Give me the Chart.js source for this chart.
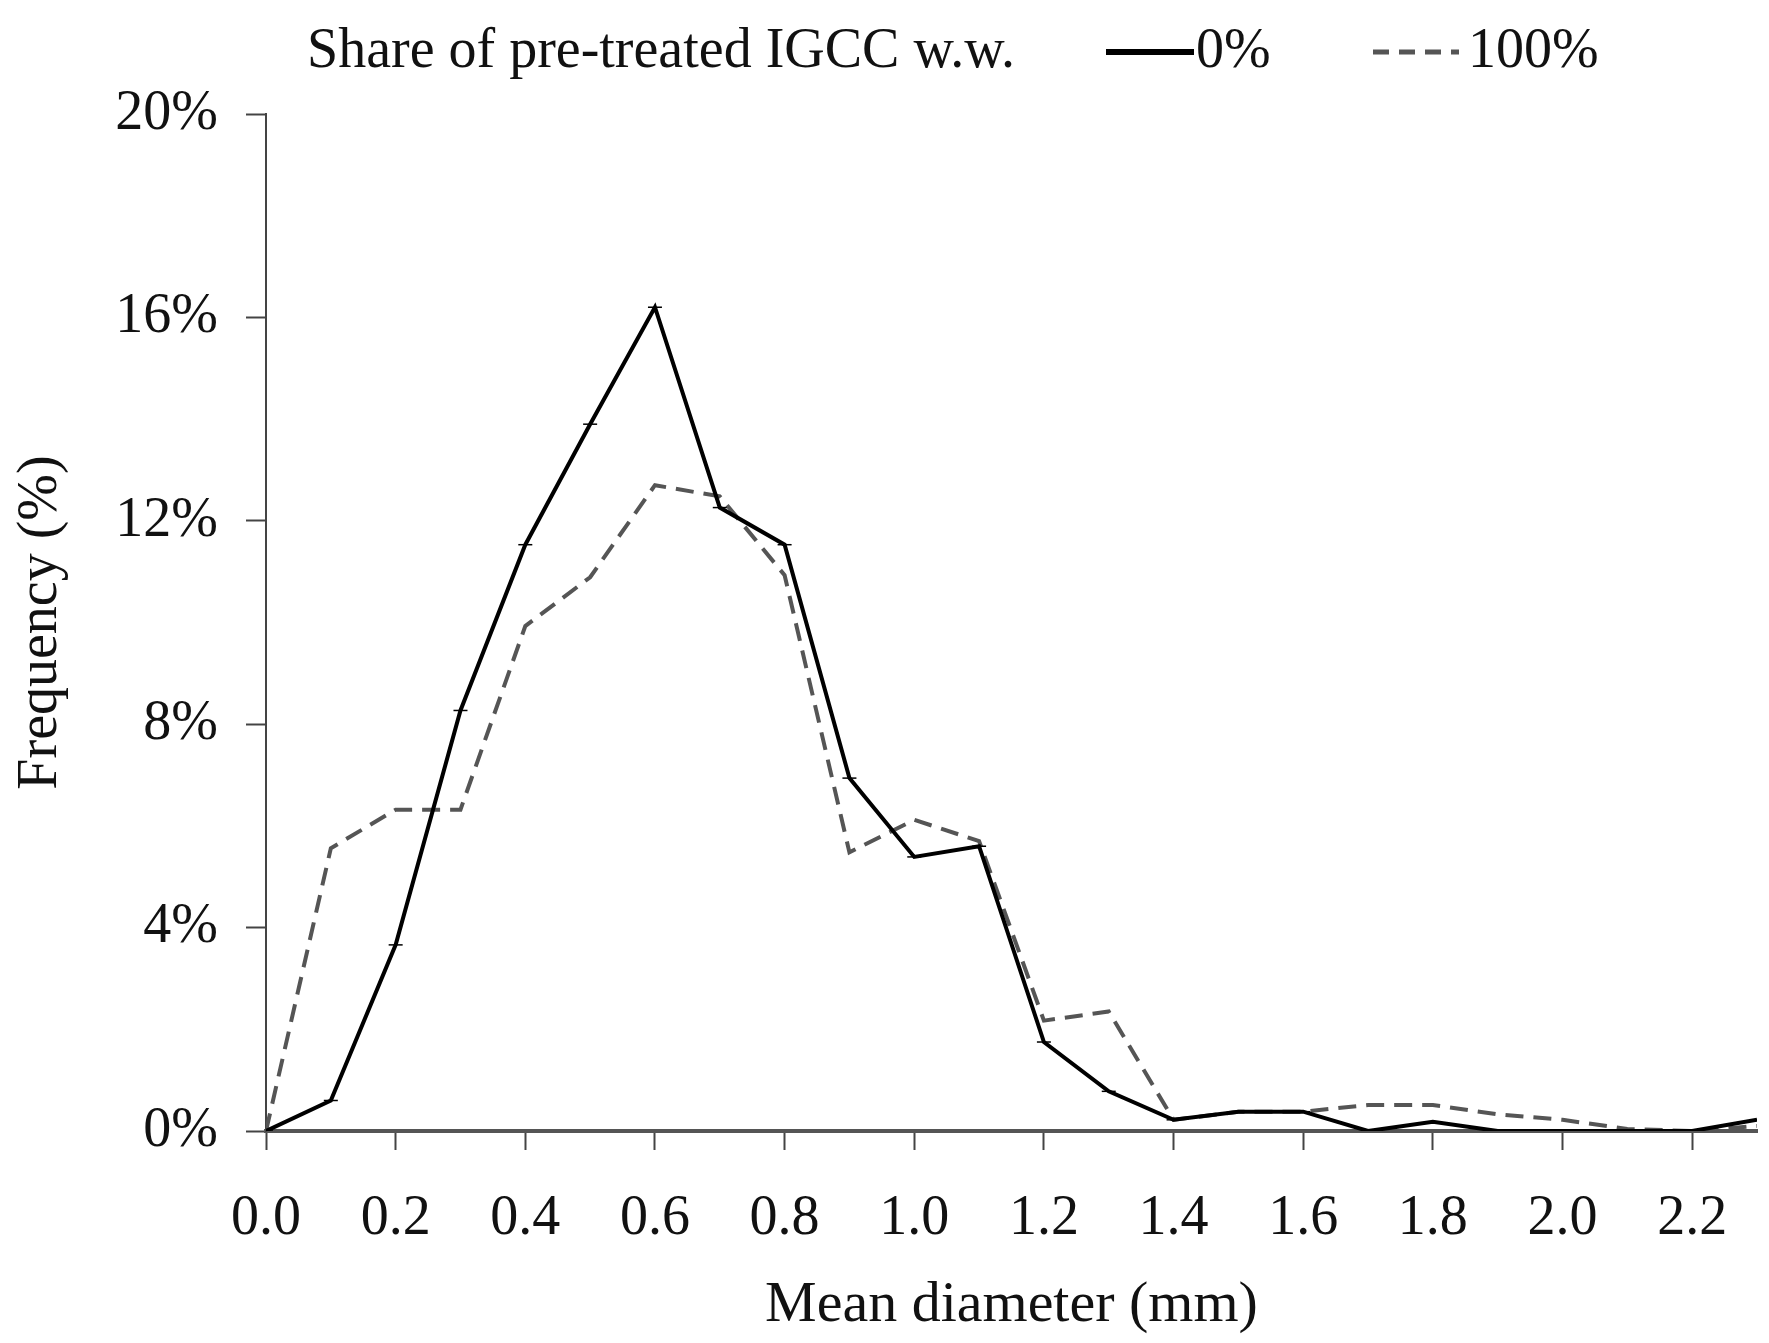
<!DOCTYPE html>
<html>
<head>
<meta charset="utf-8">
<script src="https://cdn.jsdelivr.net/npm/chart.js@4"></script>
<style>
  html, body { margin: 0; padding: 0; background: #fff; }
  #wrap { width: 1769px; height: 1343px; position: relative; }
</style>
</head>
<body>
<div id="wrap"><canvas id="grafico"></canvas></div>
<script>
// diametros medios (mm)
const diametros = [0.0, 0.1, 0.2, 0.3, 0.4, 0.5, 0.6, 0.7, 0.8, 0.9, 1.0, 1.1,
                   1.2, 1.3, 1.4, 1.5, 1.6, 1.7, 1.8, 1.9, 2.0, 2.1, 2.2, 2.3];
// frequencia (%) com 0% de IGCC pre-tratado
const freq0 = [0, 0.6, 3.66, 8.27, 11.53, 13.9, 16.2, 12.26, 11.53, 6.94, 5.39, 5.6,
               1.75, 0.78, 0.22, 0.38, 0.38, 0, 0.18, 0, 0, 0, 0, 0.22];
// frequencia (%) com 100% de IGCC pre-tratado
const freq100 = [0, 5.56, 6.32, 6.32, 9.93, 10.89, 12.7, 12.48, 10.93, 5.48, 6.12, 5.7,
                 2.17, 2.35, 0.22, 0.38, 0.38, 0.51, 0.51, 0.33, 0.22, 0.04, 0, 0.1];
const ticksX = [0.0, 0.2, 0.4, 0.6, 0.8, 1.0, 1.2, 1.4, 1.6, 1.8, 2.0, 2.2];
const ticksY = [0, 4, 8, 12, 16, 20];

const fonte = 'Liberation Serif';
const tamanho = 56;
const corTracejado = '#555555';
const tracejado = [18, 10];

function pontos(valores) {
    return diametros.map((d, i) => ({ x: d, y: valores[i] }));
}

// legenda desenhada no topo
const legendaTopo = {
    id: 'legendaTopo',
    afterDraw(chart) {
        const ctx = chart.ctx;
        ctx.save();
        ctx.font = `${tamanho}px "${fonte}"`;
        ctx.fillStyle = '#111';
        ctx.textBaseline = 'middle';
        const y = 52;
        ctx.fillText('Share of pre-treated IGCC w.w.', 307, y);

        ctx.lineWidth = 6;
        ctx.strokeStyle = '#000';
        ctx.setLineDash([]);
        ctx.beginPath(); ctx.moveTo(1106, y); ctx.lineTo(1194, y); ctx.stroke();
        ctx.fillText('0%', 1196, y);

        ctx.lineWidth = 5;
        ctx.strokeStyle = corTracejado;
        ctx.setLineDash([16, 10]);
        ctx.beginPath(); ctx.moveTo(1373, y); ctx.lineTo(1459, y); ctx.stroke();
        ctx.setLineDash([]);
        ctx.fillText('100%', 1468, y);
        ctx.restore();
    }
};

new Chart(document.getElementById('grafico'), {
    type: 'line',
    data: {
        datasets: [
            {
                label: '0%',
                data: pontos(freq0),
                borderColor: '#000',
                borderWidth: 4,
                pointStyle: 'line',
                pointRadius: 7,
                pointBorderWidth: 1.5,
                pointBorderColor: '#000',
                tension: 0
            },
            {
                label: '100%',
                data: pontos(freq100),
                borderColor: corTracejado,
                borderWidth: 4,
                borderDash: tracejado,
                pointRadius: 0,
                tension: 0
            }
        ]
    },
    options: {
        responsive: true,
        maintainAspectRatio: false,
        animation: false,
        layout: { padding: { top: 114, right: 12, left: 0, bottom: 0 } },
        plugins: {
            legend: { display: false },
            tooltip: { enabled: false }
        },
        scales: {
            x: {
                type: 'linear',
                min: 0,
                max: 2.3,
                afterBuildTicks: scale => { scale.ticks = ticksX.map(v => ({ value: v })); },
                afterFit: scale => { scale.height = 212; },
                grid: { display: true, drawOnChartArea: false, drawTicks: true, tickLength: 19, tickColor: '#444', tickWidth: 2 },
                border: { color: '#555', width: 4 },
                ticks: {
                    padding: 36,
                    color: '#111',
                    font: { family: fonte, size: tamanho },
                    maxRotation: 0,
                    autoSkip: false,
                    callback: v => Number(v).toFixed(1)
                },
                title: {
                    display: true,
                    text: 'Mean diameter (mm)',
                    color: '#111',
                    font: { family: fonte, size: tamanho + 2 },
                    padding: { top: 0, bottom: 2 }
                }
            },
            y: {
                min: 0,
                max: 20,
                afterBuildTicks: scale => { scale.ticks = ticksY.map(v => ({ value: v })); },
                afterFit: scale => { scale.width = 266; },
                grid: { display: true, drawOnChartArea: false, drawTicks: true, tickLength: 20, tickColor: '#444', tickWidth: 2 },
                border: { color: '#444', width: 2 },
                ticks: {
                    padding: 28,
                    color: '#111',
                    font: { family: fonte, size: tamanho },
                    callback: v => v + '%'
                },
                title: {
                    display: true,
                    text: 'Frequency (%)',
                    color: '#111',
                    font: { family: fonte, size: tamanho },
                    padding: { top: 8, bottom: 0 }
                }
            }
        }
    },
    plugins: [legendaTopo]
});
</script>
</body>
</html>
